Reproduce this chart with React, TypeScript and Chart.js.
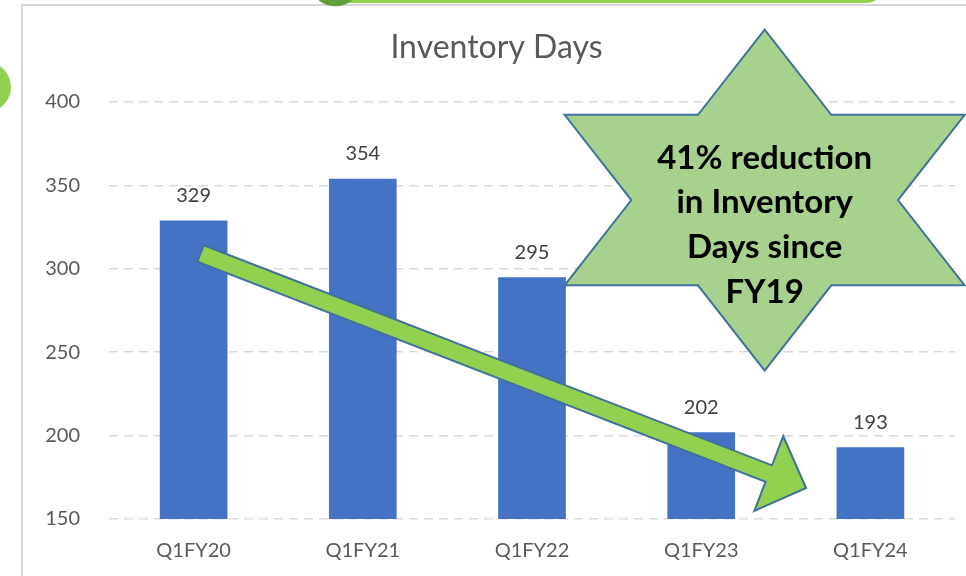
import React, { useEffect, useRef } from "react";
import { Chart, registerables } from "chart.js";

Chart.register(...registerables);

const categories = ["Q1FY20", "Q1FY21", "Q1FY22", "Q1FY23", "Q1FY24"];
const inventoryDays = [329, 354, 295, 202, 193];
const yMin = 150;
const yMax = 400;
const yStep = 50;
const chartTitle = "Inventory Days";
const starLines = ["41% reduction", "in Inventory", "Days since", "FY19"];
// annotation anchors in data space: [category position, value]
const arrowTail = [0.041, 309.2];
const arrowTip = [3.62, 168.6];
const starCenter = [3.375, 341.2];

const FONT = "Lato, 'Open Sans', 'DejaVu Sans', sans-serif";

function polygon(ctx: CanvasRenderingContext2D, pts: number[][]) {
  ctx.beginPath();
  pts.forEach((p, i) => (i === 0 ? ctx.moveTo(p[0], p[1]) : ctx.lineTo(p[0], p[1])));
  ctx.closePath();
}

const decorPlugin = {
  id: "decor",
  beforeDraw(chart: any) {
    const ctx: CanvasRenderingContext2D = chart.ctx;
    const W = chart.width;
    const H = chart.height;
    ctx.save();
    ctx.fillStyle = "#ffffff";
    ctx.fillRect(0, 0, W, H);
    // frame
    ctx.strokeStyle = "#d6d6d6";
    ctx.lineWidth = 2;
    ctx.beginPath();
    ctx.moveTo(22, H + 5);
    ctx.lineTo(22, 5);
    ctx.lineTo(W + 5, 5);
    ctx.stroke();
    // top green banner
    ctx.fillStyle = "#92D050";
    ctx.beginPath();
    (ctx as any).roundRect(330, -40, 553, 43, 16);
    ctx.fill();
    ctx.fillStyle = "#5F9E3C";
    ctx.beginPath();
    ctx.arc(335.5, -20.75, 27, 0, Math.PI * 2);
    ctx.fill();
    // left circle
    ctx.fillStyle = "#92D050";
    ctx.beginPath();
    ctx.arc(-14, 87, 25, 0, Math.PI * 2);
    ctx.fill();
    ctx.restore();
  },
  afterDatasetsDraw(chart: any) {
    const ctx: CanvasRenderingContext2D = chart.ctx;
    const meta = chart.getDatasetMeta(0);
    ctx.save();
    ctx.fillStyle = "#404040";
    ctx.font = `20px ${FONT}`;
    ctx.textAlign = "center";
    ctx.textBaseline = "middle";
    meta.data.forEach((bar: any, i: number) => {
      ctx.fillText(String(inventoryDays[i]), bar.x, bar.y - 25);
    });
    ctx.restore();
  },
  afterDraw(chart: any) {
    const ctx: CanvasRenderingContext2D = chart.ctx;
    const xs = chart.scales.x;
    const ys = chart.scales.y;
    const px = (p: number[]) => [xs.getPixelForValue(p[0]), ys.getPixelForValue(p[1])];
    ctx.save();
    // arrow
    const T = px(arrowTail);
    const P = px(arrowTip);
    const dx = P[0] - T[0];
    const dy = P[1] - T[1];
    const L = Math.hypot(dx, dy);
    const ux = dx / L, uy = dy / L;
    const nx = -uy, ny = ux;
    const sw = 8.8, hw = 40, hl = 40;
    const B = [P[0] - ux * hl, P[1] - uy * hl];
    const pts = [
      [T[0] - nx * sw, T[1] - ny * sw],
      [B[0] - nx * sw, B[1] - ny * sw],
      [B[0] - nx * hw, B[1] - ny * hw],
      [P[0], P[1]],
      [B[0] + nx * hw, B[1] + ny * hw],
      [B[0] + nx * sw, B[1] + ny * sw],
      [T[0] + nx * sw, T[1] + ny * sw],
    ];
    polygon(ctx, pts);
    ctx.fillStyle = "#92D050";
    ctx.fill();
    ctx.strokeStyle = "#41719C";
    ctx.lineWidth = 2;
    ctx.lineJoin = "miter";
    ctx.stroke();
    // star
    const C = px(starCenter);
    const sWd = 200, sHt = 170.5;
    const rel = [
      [0, -sHt], [sWd / 3, -sHt / 2], [sWd, -sHt / 2], [(2 * sWd) / 3, 0],
      [sWd, sHt / 2], [sWd / 3, sHt / 2], [0, sHt], [-sWd / 3, sHt / 2],
      [-sWd, sHt / 2], [(-2 * sWd) / 3, 0], [-sWd, -sHt / 2], [-sWd / 3, -sHt / 2],
    ];
    polygon(ctx, rel.map((r) => [C[0] + r[0], C[1] + r[1]]));
    ctx.fillStyle = "#A9D18E";
    ctx.fill();
    ctx.strokeStyle = "#41719C";
    ctx.lineWidth = 2;
    ctx.stroke();
    ctx.fillStyle = "#000000";
    ctx.font = `bold 33px ${FONT}`;
    ctx.textAlign = "center";
    ctx.textBaseline = "middle";
    starLines.forEach((line, i) => {
      ctx.fillText(line, C[0], C[1] - 42 + i * 44.7);
    });
    ctx.restore();
  },
};

export default function App() {
  const ref = useRef<HTMLCanvasElement | null>(null);
  useEffect(() => {
    if (!ref.current) return;
    const chart = new Chart(ref.current, {
      type: "bar",
      data: {
        labels: categories,
        datasets: [
          {
            label: chartTitle,
            data: inventoryDays,
            backgroundColor: "#4472C4",
            borderWidth: 0,
            categoryPercentage: 1,
            barPercentage: 0.4,
          },
        ],
      },
      options: {
        animation: false,
        responsive: false,
        devicePixelRatio: 1,
        layout: { padding: { left: 38, right: 11, top: 0, bottom: 0 } },
        plugins: {
          legend: { display: false },
          tooltip: { enabled: false },
          title: {
            display: true,
            text: chartTitle,
            color: "#595959",
            font: { family: FONT, size: 32, weight: "normal" },
            padding: { top: 28.5, bottom: 35.1 },
          },
        },
        scales: {
          x: {
            grid: { display: false, drawTicks: false },
            border: { display: false },
            ticks: { color: "#595959", font: { family: FONT, size: 20 }, padding: 20 },
            afterFit: (s: any) => {
              s.height = 57;
            },
          },
          y: {
            min: yMin,
            max: yMax,
            grid: { color: "#d9d9d9", lineWidth: 1.5, drawTicks: false },
            border: { display: false, dash: [9, 6] },
            ticks: {
              stepSize: yStep,
              color: "#595959",
              font: { family: FONT, size: 20 },
              padding: 29,
            },
            afterFit: (s: any) => {
              s.width = 71;
            },
          },
        },
      },
      plugins: [decorPlugin],
    } as any);
    return () => chart.destroy();
  }, []);
  return (
    <div style={{ position: "absolute", left: 0, top: 0, width: 966, height: 576 }}>
      <canvas ref={ref} width={966} height={576} style={{ display: "block" }} />
    </div>
  );
}
